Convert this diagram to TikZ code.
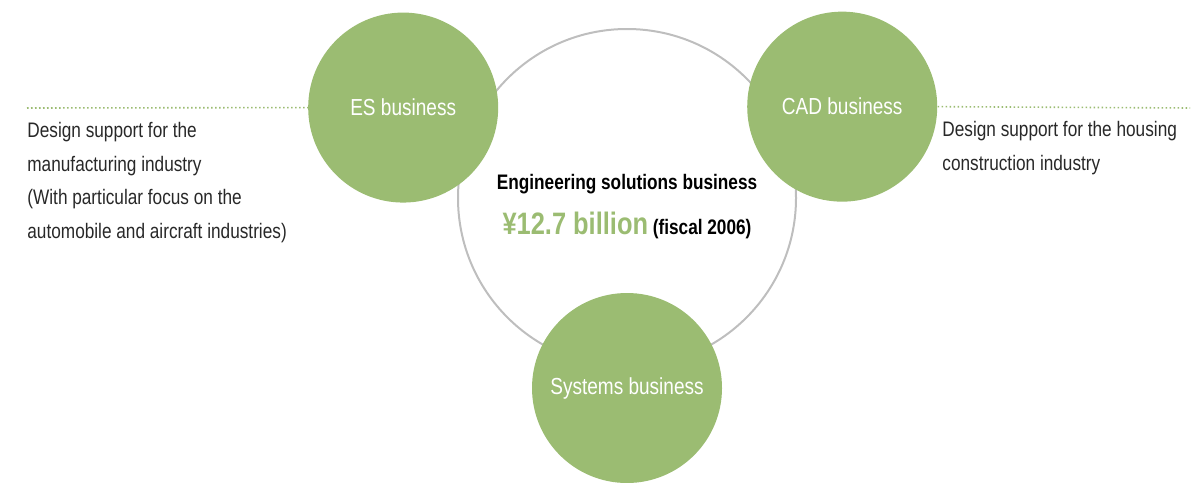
\documentclass[tikz,border=0pt]{standalone}
\usepackage{fontspec}
\setmainfont{Liberation Sans}[FakeStretch=0.82]
\usetikzlibrary{positioning}

\definecolor{leaf}{RGB}{155,188,114}
\definecolor{ring}{RGB}{190,190,190}
\definecolor{copy}{RGB}{40,40,40}

\tikzset{
  biz/.style={circle, fill=leaf, minimum size=95pt, inner sep=0pt,
    text=white, font=\fontsize{11.6}{14}\selectfont},
  hub/.style={circle, draw=ring, line width=1pt, minimum size=169pt,
    inner sep=0pt, align=center, font=\bfseries\fontsize{10.5}{13}\selectfont},
  dotline/.style={draw=leaf, line width=0.8pt, dash pattern=on 0.8pt off 1.2pt},
  note/.style={inner sep=0pt, align=left, text=copy,
    font=\fontsize{10.5}{16.75}\selectfont}
}

\begin{document}
\begin{tikzpicture}[x=0.5pt, y=-0.5pt, edge from parent/.style={draw=none}]
  \useasboundingbox (0,0) rectangle (1203,482);
  \node[hub] (hub) at (627,198) {\rule{0pt}{16pt}Engineering solutions business\\[8pt]
    {\color{leaf}\fontsize{15.5}{18}\selectfont ¥12.7 billion} (fiscal 2006)}
    child [grow=158,level distance=120.7pt]{node[biz] (es) {ES business}}
    child [grow=23,level distance=116.9pt]{node[biz] (cad) {CAD business}}
    child [grow=-90,level distance=95pt]{node[biz] (sys) {Systems business}};

  % dotted leaders to the notes
  \coordinate (dl) at (27,108);
  \coordinate (dr) at (1190,108);
  \draw[dotline] (dl) -- (es.west);
  \draw[dotline] (cad.east) -- (dr);

  \node[note, anchor=base west] (mfg) at (27,238)
    {Design support for the\\manufacturing industry\\(With particular focus on the\\automobile and aircraft industries)};
  \node[note, anchor=base west] (housing) at (942,170)
    {Design support for the housing\\construction industry};
\end{tikzpicture}
\end{document}
